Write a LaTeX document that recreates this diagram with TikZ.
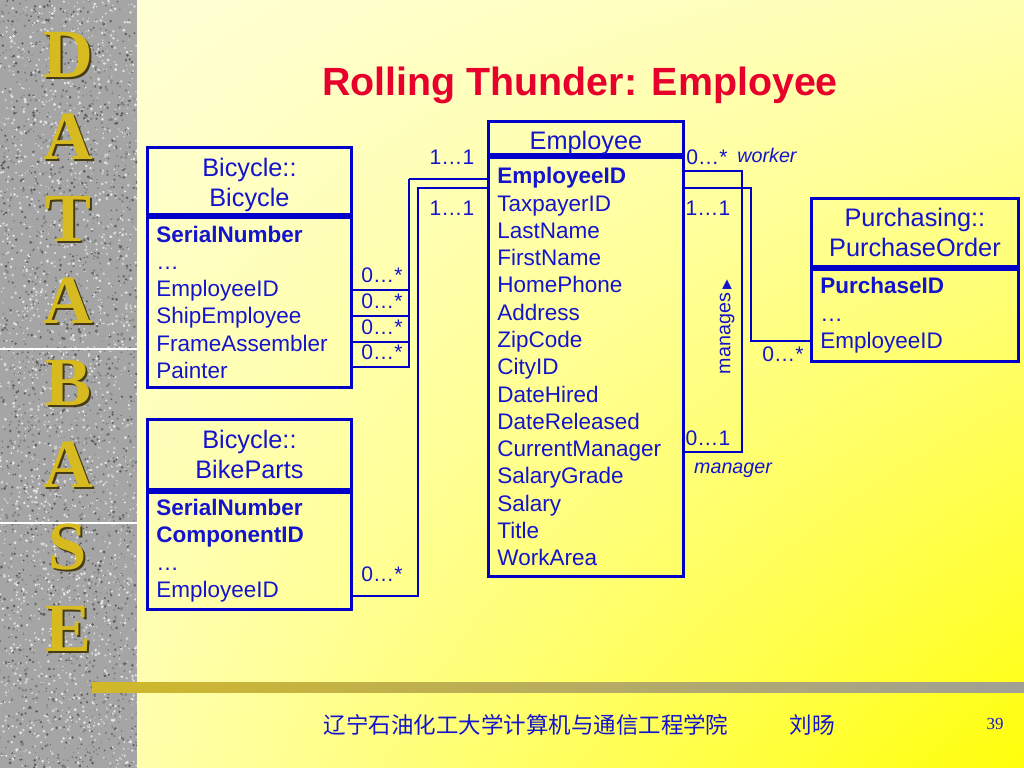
\documentclass[tikz,border=0pt]{standalone}
\usepackage{fontspec}
\setmainfont{Liberation Sans}
\newfontfamily\serifletters{Liberation Serif}
\newfontfamily\cjk{Noto Sans CJK SC}
\newfontfamily\symb{DejaVu Sans}
\usetikzlibrary{positioning,shadings}
\definecolor{umlblue}{RGB}{0,0,200}
\definecolor{txtblue}{RGB}{20,20,205}
\definecolor{titlered}{RGB}{232,0,45}
\definecolor{gold}{RGB}{214,186,32}
\definecolor{goldshadow}{RGB}{70,60,20}
\definecolor{bgUL}{RGB}{255,255,218}
\definecolor{bgUR}{RGB}{255,255,178}
\definecolor{bgLL}{RGB}{255,255,196}
\definecolor{bgLR}{RGB}{255,255,10}
\definecolor{granite}{RGB}{165,165,165}
\definecolor{granite0}{RGB}{95,95,95}
\definecolor{granite1}{RGB}{130,130,130}
\definecolor{granite2}{RGB}{210,210,210}
\definecolor{granite3}{RGB}{230,230,230}
\definecolor{barGold}{RGB}{208,184,40}
\definecolor{barGray}{RGB}{160,160,150}

\begin{document}
\begin{tikzpicture}[x=0.025cm,y=-0.025cm,
      every node/.append style={text=txtblue},
      boxhead/.style={draw=umlblue,line width=2pt,align=center,inner sep=0pt,
        font=\fontsize{18}{21.5}\selectfont},
      boxbody/.style={draw=umlblue,line width=2pt,align=left,inner xsep=0.225cm,inner ysep=0pt,
        font=\fontsize{16}{19.4}\selectfont},
      link/.style={draw=umlblue,line width=1.3pt},
      mult/.style={inner sep=0pt,font=\fontsize{15}{18}\selectfont},
      role/.style={inner sep=0pt,font=\fontsize{14}{17}\selectfont\itshape}]
    \tikzstyle{letter} = [inner sep=0pt,font=\serifletters\bfseries\fontsize{49}{50}\selectfont]
    \useasboundingbox (0,0) rectangle (1024,768);
    \shade[upper left=bgUL,upper right=bgUR,lower left=bgLL,lower right=bgLR] (0,0) rectangle (1024,768);

    \begin{scope}
      \clip (0,0) rectangle (137,768);
      \fill[granite] (0,0) rectangle (137,768);
      \pgfmathsetseed{7}
      \foreach \k in {1,...,4200} {
        \pgfmathsetmacro\gx{rnd*137}
        \pgfmathsetmacro\gy{rnd*768}
        \pgfmathsetmacro\gs{0.5+rnd*1.1}
        \pgfmathtruncatemacro\gc{rnd*4}
        \fill[granite\gc] (\gx,\gy) circle (\gs);
      }
      \draw[white,line width=0.8pt] (0,349) -- (137,349) (0,523) -- (137,523);
    \end{scope}
    \foreach \ch [count=\i from 0] in {D,A,T,A,B,A,S,E} {
      \node[letter,text=goldshadow] (shadow_\i) at (70,{57+82*\i}) {\ch};
      \node[letter,text=gold] (letter_\i) at (68,{55+82*\i}) {\ch};
    }
    \shade[left color=barGold,right color=barGray] (92,682) rectangle (1024,692);

    \node[font=\fontsize{28}{33}\selectfont\bfseries,text=titlered] (title) at (580,85) {Rolling Thunder: Employee};

    \node[boxhead,minimum width=5.1cm,minimum height=1.675cm,anchor=north west] (bicycle_head) at (146,146) {\rule{0pt}{18.6pt}Bicycle::\\Bicycle};
    \node[boxbody,text width=4.65cm,minimum height=4.25cm,below=0pt of bicycle_head] (bicycle_body)
      {\textbf{SerialNumber}\\…\\EmployeeID\\ShipEmployee\\FrameAssembler\\Painter};

    \node[boxhead,minimum width=5.1cm,minimum height=1.75cm,anchor=north west] (parts_head) at (146,418) {Bicycle::\\BikeParts};
    \node[boxbody,text width=4.65cm,minimum height=2.925cm,below=0pt of parts_head] (parts_body)
      {\textbf{SerialNumber}\\\textbf{ComponentID}\\…\\EmployeeID};

    \node[boxhead,minimum width=4.875cm,minimum height=0.825cm,anchor=north west] (employee_head) at (487,120) {\rule{0pt}{19.6pt}Employee};
    \node[boxbody,text width=4.425cm,minimum height=10.475cm,below=0pt of employee_head] (employee_body)
      {\textbf{EmployeeID}\\TaxpayerID\\LastName\\FirstName\\HomePhone\\Address\\ZipCode\\CityID\\DateHired\\
       DateReleased\\CurrentManager\\SalaryGrade\\Salary\\Title\\WorkArea};

    \node[boxhead,minimum width=5.175cm,minimum height=1.7cm,anchor=north west] (po_head) at (810,197) {Purchasing::\\PurchaseOrder};
    \node[boxbody,text width=4.725cm,minimum height=2.3cm,below=0pt of po_head] (po_body)
      {\textbf{PurchaseID}\\…\\EmployeeID};

    \coordinate (bic_join) at (409,179);
    \coordinate (parts_join) at (418,188);
    \coordinate (self_join) at (742,171);
    \coordinate (po_join) at (751,188);
    \foreach \y in {290,316,342,367}
      \draw[link] (bicycle_body.east |- 0,\y) -| (bic_join);
    \draw[link] (bic_join) -- (bic_join -| employee_body.west);
    \draw[link] (parts_body.east |- 0,596) -| (parts_join) -- (parts_join -| employee_body.west);
    \draw[link] (employee_body.east |- self_join) -- (self_join) |- (employee_body.east |- 0,452);
    \draw[link] (employee_body.east |- po_join) -- (po_join) |- (po_body.west |- 0,341);

    \node[mult] (m_bic_emp) at (452,157) {1…1};
    \node[mult] (m_parts_emp) at (452,208) {1…1};
    \foreach \y [count=\i] in {275,301,327,352}
      \node[mult] (m_bic_\i) at (382,\y) {0…*};
    \node[mult] (m_parts) at (382,574) {0…*};
    \node[mult] (m_worker) at (707,157) {0…*};
    \node[role] (worker) at (767,155) {worker};
    \node[mult] (m_po_emp) at (708,208) {1…1};
    \node[mult] (m_manager) at (708,438) {0…1};
    \node[role] (manager) at (733,470) {manager};
    \node[inner sep=0pt,rotate=90,font=\fontsize{14}{17}\selectfont] (manages) at (727,327)
      {manages\,{\symb\fontsize{9}{9}\selectfont ▶}};
    \node[mult] (m_po) at (783,354) {0…*};

    \node[font=\cjk\fontsize{16}{19}\selectfont] (school) at (526,725) {辽宁石油化工大学计算机与通信工程学院};
    \node[font=\cjk\fontsize{16}{19}\selectfont] (author) at (812,725) {刘旸};
    \node[font=\serifletters\fontsize{12}{14}\selectfont] (page) at (995,724) {39};
\end{tikzpicture}
\end{document}
